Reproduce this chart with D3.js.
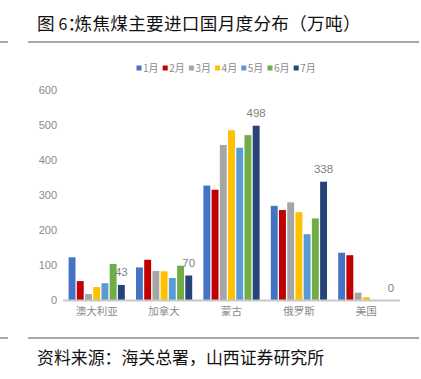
<!DOCTYPE html>
<html><head><meta charset="utf-8">
<script src="https://cdn.jsdelivr.net/npm/d3@7"></script>
<style>body{margin:0;background:#fff}svg{display:block}</style>
</head><body>
<script>
const categories = ["澳大利亚","加拿大","蒙古","俄罗斯","美国"];
const months = ["1月","2月","3月","4月","5月","6月","7月"];
const m1 = [122, 93, 327, 269, 135];
const m2 = [54, 115, 315, 257, 128];
const m3 = [17, 83, 443, 279, 21];
const m4 = [37, 82, 485, 251, 8];
const m5 = [48, 63, 435, 188, 0];
const m6 = [103, 98, 471, 233, 0];
const m7 = [43, 70, 498, 338, 0];
const yTicks = [0,100,200,300,400,500,600];
const colors = ["#4472C4","#C00000","#A5A5A5","#FFC000","#5B9BD5","#70AD47","#264478"];
const series = [m1,m2,m3,m4,m5,m6,m7];

const W=421,H=379;
const svg=d3.select("body").append("svg").attr("width",W).attr("height",H);
const cjk="'Noto Sans CJK SC','Noto Sans',sans-serif";
const narrow="'Liberation Sans Narrow','Liberation Sans',Arial,sans-serif";

// title & rules
const t=svg.append("text").attr("y",29.5).attr("font-family",cjk).attr("font-size",17.6).attr("fill","#111");
t.append("tspan").attr("x",37).text("图");
t.append("tspan").attr("x",58.5).attr("font-size",16).text("6");
t.append("tspan").style("letter-spacing","-10.5px").text("：");
t.append("tspan").attr("x",74.5).style("letter-spacing","0.3px").text("炼焦煤主要进口国月度分布（万吨）");
[[0,8],[28,419]].forEach(([a,b])=>{
  svg.append("line").attr("x1",a).attr("x2",b).attr("y1",42).attr("y2",42).attr("stroke","#8c8c8c").attr("stroke-width",1.5);
  svg.append("line").attr("x1",a).attr("x2",b).attr("y1",338).attr("y2",338).attr("stroke","#8c8c8c").attr("stroke-width",1.5);
});
svg.append("text").attr("x",37).attr("y",364).attr("font-family",cjk).attr("font-size",16.9).attr("fill","#111").text("资料来源：海关总署，山西证券研究所");

// scales
const x0=d3.scaleBand().domain(categories).range([63,400]).paddingInner(0).paddingOuter(0);
const x1=d3.scaleBand().domain(months).range([0,x0.bandwidth()]).paddingInner(0.16).paddingOuter(0.68);
const y=d3.scaleLinear().domain([0,600]).range([300,90]);

// y axis
const ya=svg.append("g").attr("transform","translate(57,0)").call(d3.axisLeft(y).tickValues(yTicks).tickSize(0).tickPadding(0));
ya.select(".domain").remove();
ya.selectAll("text").attr("font-family",narrow).attr("font-size",11).attr("fill","#8a8a8a");

// bars
const g=svg.append("g");
series.forEach((vals,si)=>{
  g.selectAll(null).data(vals).enter().append("rect")
   .attr("x",(d,i)=>x0(categories[i])+x1(months[si]))
   .attr("width",x1.bandwidth())
   .attr("y",d=>y(d)).attr("height",d=>y(0)-y(d))
   .attr("fill",colors[si]);
});
// labels on last series
svg.selectAll(null).data(m7).enter().append("text")
  .attr("x",(d,i)=>x0(categories[i])+x1(months[6])+x1.bandwidth()/2)
  .attr("y",d=>y(d)-8.5)
  .attr("text-anchor","middle").attr("font-family",narrow).attr("font-size",11.5).attr("fill","#7f7f7f")
  .text(d=>d);

// baseline
svg.append("line").attr("x1",63).attr("x2",400).attr("y1",300.5).attr("y2",300.5).attr("stroke","#c8c8c8").attr("stroke-width",2);

// x axis labels
const xa=svg.append("g").attr("transform","translate(0,301)").call(d3.axisBottom(x0).tickSize(0).tickPadding(7));
xa.select(".domain").remove();
xa.selectAll("text").attr("font-family",cjk).attr("font-size",10.5).attr("fill","#8a8a8a");

// legend
const lg=svg.append("g");
months.forEach((m,i)=>{
  const lx=136.5+i*26.2;
  lg.append("rect").attr("x",lx).attr("y",65.5).attr("width",5).attr("height",5).attr("fill",colors[i]);
  lg.append("text").attr("x",lx+6.5).attr("y",72).attr("font-family",cjk).attr("font-size",10).attr("fill","#8a8a8a").text(m);
});
</script>
</body></html>
